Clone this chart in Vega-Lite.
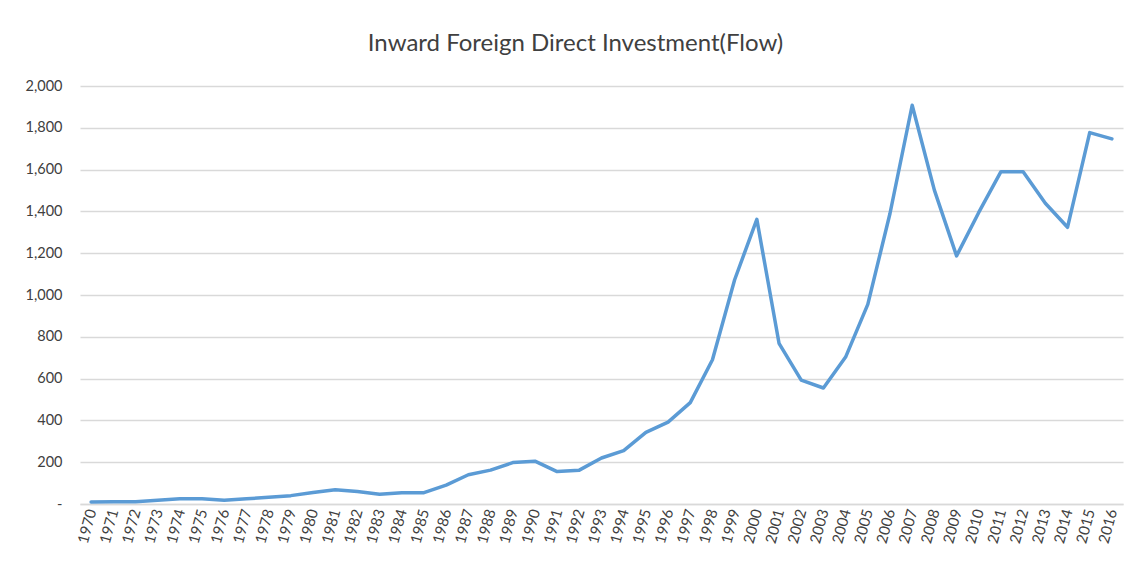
{
  "$schema": "https://vega.github.io/schema/vega-lite/v6.json",
  "width": 1043,
  "height": 418,
  "autosize": {"type": "none"},
  "padding": {"left": 80, "top": 86, "right": 13, "bottom": 57},
  "background": "white",
  "title": {
    "text": "Inward Foreign Direct Investment(Flow)",
    "font": "Lato",
    "fontSize": 24,
    "fontWeight": "normal",
    "color": "#404040",
    "anchor": "middle",
    "dx": -26,
    "offset": 22
  },
  "data": {
    "values": [
      {"year": "1970", "value": 10},
      {"year": "1971", "value": 11},
      {"year": "1972", "value": 11},
      {"year": "1973", "value": 18},
      {"year": "1974", "value": 25},
      {"year": "1975", "value": 25},
      {"year": "1976", "value": 18},
      {"year": "1977", "value": 25},
      {"year": "1978", "value": 32},
      {"year": "1979", "value": 40},
      {"year": "1980", "value": 55},
      {"year": "1981", "value": 68},
      {"year": "1982", "value": 60},
      {"year": "1983", "value": 47},
      {"year": "1984", "value": 54},
      {"year": "1985", "value": 54},
      {"year": "1986", "value": 90},
      {"year": "1987", "value": 140},
      {"year": "1988", "value": 162},
      {"year": "1989", "value": 198},
      {"year": "1990", "value": 205},
      {"year": "1991", "value": 155},
      {"year": "1992", "value": 162},
      {"year": "1993", "value": 220},
      {"year": "1994", "value": 255},
      {"year": "1995", "value": 343},
      {"year": "1996", "value": 392},
      {"year": "1997", "value": 485},
      {"year": "1998", "value": 690},
      {"year": "1999", "value": 1073},
      {"year": "2000", "value": 1362},
      {"year": "2001", "value": 769},
      {"year": "2002", "value": 593},
      {"year": "2003", "value": 555},
      {"year": "2004", "value": 703},
      {"year": "2005", "value": 955},
      {"year": "2006", "value": 1390},
      {"year": "2007", "value": 1908},
      {"year": "2008", "value": 1502},
      {"year": "2009", "value": 1187},
      {"year": "2010", "value": 1395},
      {"year": "2011", "value": 1590},
      {"year": "2012", "value": 1590},
      {"year": "2013", "value": 1439},
      {"year": "2014", "value": 1324},
      {"year": "2015", "value": 1777},
      {"year": "2016", "value": 1747}
    ]
  },
  "mark": {"type": "line", "color": "#5B9BD5", "strokeWidth": 3.5, "strokeCap": "round", "strokeJoin": "round"},
  "encoding": {
    "x": {
      "field": "year",
      "type": "ordinal",
      "scale": {"type": "point", "padding": 0.5},
      "axis": {
        "title": null,
        "labelAngle": -75,
        "labelFont": "Lato",
        "labelFontSize": 15,
        "labelColor": "#404040",
        "ticks": false,
        "labelPadding": 5,
        "domainColor": "#D9D9D9",
        "domainWidth": 1.3,
        "grid": false
      }
    },
    "y": {
      "field": "value",
      "type": "quantitative",
      "scale": {"domain": [0, 2000], "nice": false},
      "axis": {
        "title": null,
        "values": [0, 200, 400, 600, 800, 1000, 1200, 1400, 1600, 1800, 2000],
        "labelExpr": "datum.value == 0 ? '-' : format(datum.value, ',')",
        "labelFont": "Lato",
        "labelFontSize": 14.5,
        "labelColor": "#404040",
        "labelPadding": 18,
        "ticks": false,
        "domain": false,
        "grid": true,
        "gridColor": "#D9D9D9",
        "gridWidth": 1.3
      }
    }
  },
  "config": {"view": {"stroke": null}}
}
